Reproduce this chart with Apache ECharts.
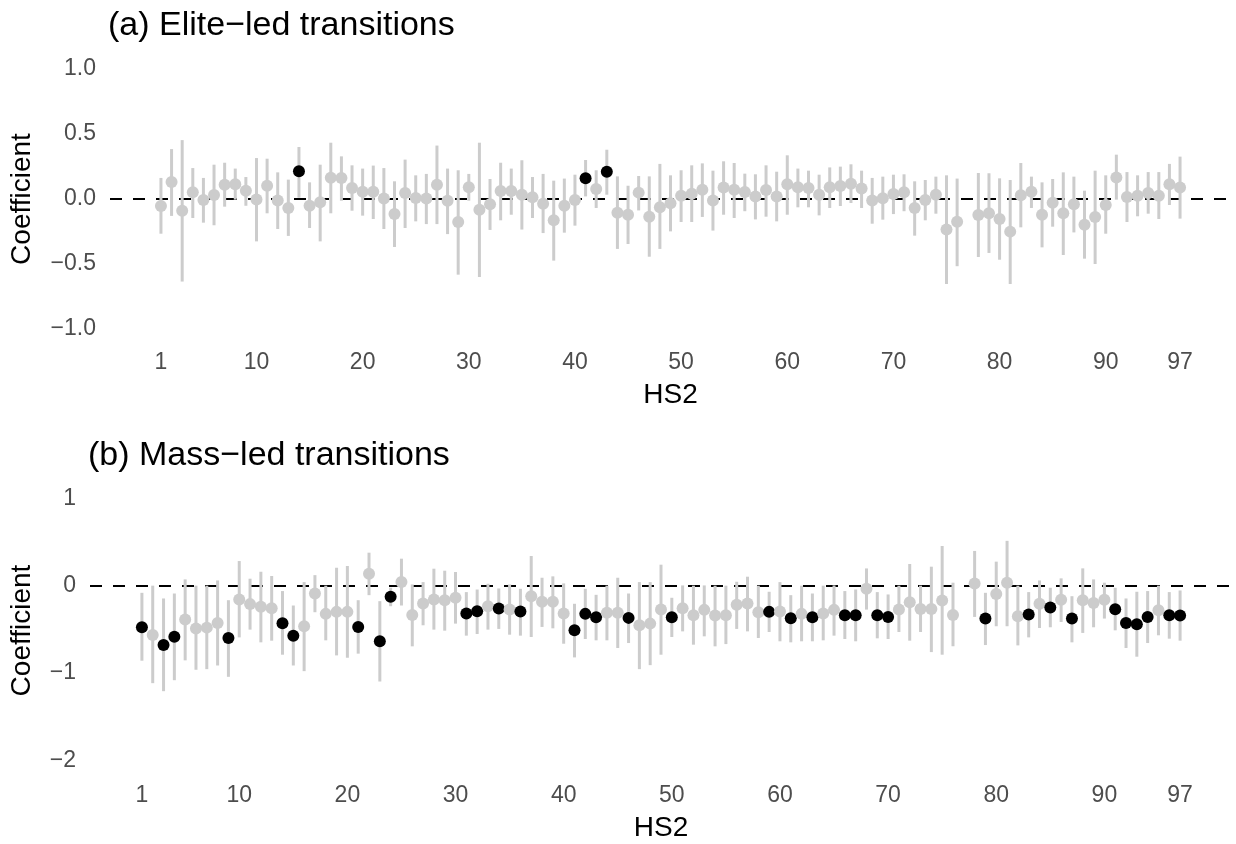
<!DOCTYPE html>
<html>
<head>
<meta charset="utf-8">
<title>HS2 coefficients</title>
<script src="https://cdn.jsdelivr.net/npm/echarts@6/dist/echarts.min.js"></script>
<style>
  body { margin: 0; background: #fff; }
  #chart { width: 1236px; height: 844px; }
</style>
</head>
<body>
<div id="chart"></div>
<script>
// HS2 chapter codes (77 is not used)
const hs2Codes = [
  1, 2, 3, 4, 5, 6, 7, 8, 9, 10, 11, 12, 13, 14, 15, 16, 17, 18, 19, 20,
  21, 22, 23, 24, 25, 26, 27, 28, 29, 30, 31, 32, 33, 34, 35, 36, 37, 38, 39, 40,
  41, 42, 43, 44, 45, 46, 47, 48, 49, 50, 51, 52, 53, 54, 55, 56, 57, 58, 59, 60,
  61, 62, 63, 64, 65, 66, 67, 68, 69, 70, 71, 72, 73, 74, 75, 76,
  78, 79, 80, 81, 82, 83, 84, 85, 86, 87, 88, 89, 90, 91, 92, 93, 94, 95, 96, 97
]
const xTicks = [1, 10, 20, 30, 40, 50, 60, 70, 80, 90, 97]
const yTicksElite = [-1, -0.5, 0, 0.5, 1]
const yTicksMass = [-2, -1, 0, 1]

// (a) Elite-led transitions
const eliteCoef = [
  -0.054, 0.130, -0.090, 0.052, -0.008, 0.031, 0.110, 0.113, 0.064, -0.003,
  0.102, -0.011, -0.069, 0.213, -0.052, -0.025, 0.164, 0.162, 0.085, 0.056,
  0.056, 0.003, -0.116, 0.046, 0.008, 0.003, 0.110, -0.013, -0.177, 0.090,
  -0.082, -0.041, 0.061, 0.061, 0.033, 0.013, -0.036, -0.164, -0.052, -0.008,
  0.159, 0.077, 0.210, -0.105, -0.121, 0.049, -0.136, -0.064, -0.033, 0.025,
  0.041, 0.072, -0.011, 0.088, 0.072, 0.054, 0.020, 0.069, 0.020, 0.113,
  0.090, 0.085, 0.033, 0.090, 0.100, 0.118, 0.080, -0.011, 0.005, 0.039,
  0.052, -0.069, -0.008, 0.033, -0.235, -0.175,
  -0.123, -0.110, -0.154, -0.251, 0.028, 0.056, -0.121, -0.028, -0.110, -0.041,
  -0.198, -0.138, -0.046, 0.166, 0.016, 0.025, 0.046, 0.025, 0.113, 0.088
]
const eliteLow = [
  -0.267, -0.130, -0.635, -0.146, -0.182, -0.202, -0.059, -0.005, -0.052, -0.326,
  -0.110, -0.231, -0.284, 0.010, -0.223, -0.326, -0.110, -0.013, -0.090, -0.128,
  -0.154, -0.231, -0.369, -0.223, -0.172, -0.193, -0.193, -0.270, -0.582, -0.013,
  -0.600, -0.238, -0.164, -0.121, -0.235, -0.146, -0.262, -0.474, -0.259, -0.205,
  0.020, -0.069, 0.033, -0.384, -0.346, -0.088, -0.444, -0.384, -0.249, -0.177,
  -0.177, -0.138, -0.243, -0.121, -0.146, -0.094, -0.157, -0.136, -0.172, -0.121,
  -0.064, -0.064, -0.126, -0.069, -0.054, -0.031, -0.069, -0.190, -0.159, -0.116,
  -0.094, -0.282, -0.164, -0.113, -0.654, -0.517,
  -0.446, -0.415, -0.467, -0.654, -0.218, -0.069, -0.372, -0.213, -0.431, -0.257,
  -0.459, -0.500, -0.267, -0.005, -0.177, -0.133, -0.113, -0.154, -0.046, -0.151
]
const eliteHigh = [
  0.162, 0.384, 0.453, 0.238, 0.162, 0.264, 0.279, 0.234, 0.169, 0.315,
  0.310, 0.205, 0.149, 0.400, 0.128, 0.264, 0.433, 0.328, 0.259, 0.234,
  0.257, 0.238, 0.136, 0.303, 0.182, 0.193, 0.411, 0.234, 0.221, 0.193,
  0.433, 0.154, 0.279, 0.234, 0.298, 0.169, 0.193, 0.141, 0.157, 0.187,
  0.300, 0.221, 0.379, 0.174, 0.102, 0.177, 0.174, 0.270, 0.182, 0.221,
  0.259, 0.274, 0.218, 0.290, 0.277, 0.195, 0.190, 0.259, 0.210, 0.336,
  0.234, 0.218, 0.187, 0.243, 0.249, 0.267, 0.218, 0.162, 0.172, 0.187,
  0.190, 0.136, 0.146, 0.172, 0.182, 0.157,
  0.200, 0.198, 0.159, 0.146, 0.277, 0.172, 0.128, 0.154, 0.205, 0.172,
  0.064, 0.218, 0.182, 0.341, 0.207, 0.182, 0.207, 0.207, 0.270, 0.326
]

// (b) Mass-led transitions
const massCoef = [
  -0.473, -0.561, -0.677, -0.581, -0.384, -0.488, -0.477, -0.423, -0.596, -0.154,
  -0.207, -0.238, -0.254, -0.427, -0.569, -0.461, -0.085, -0.319, -0.296, -0.296,
  -0.469, 0.142, -0.634, -0.123, 0.046, -0.331, -0.200, -0.154, -0.162, -0.134,
  -0.315, -0.288, -0.231, -0.258, -0.270, -0.292, -0.116, -0.181, -0.181, -0.315,
  -0.508, -0.319, -0.358, -0.307, -0.307, -0.365, -0.450, -0.431, -0.270, -0.358,
  -0.254, -0.335, -0.273, -0.339, -0.335, -0.215, -0.200, -0.300, -0.296, -0.292,
  -0.369, -0.319, -0.358, -0.315, -0.273, -0.335, -0.335, -0.031, -0.335, -0.354,
  -0.270, -0.185, -0.262, -0.262, -0.165, -0.333,
  0.031, -0.373, -0.092, 0.039, -0.346, -0.327, -0.203, -0.246, -0.158, -0.373,
  -0.162, -0.193, -0.158, -0.266, -0.423, -0.439, -0.354, -0.277, -0.335, -0.339
]
const massLow = [
  -0.857, -1.115, -1.207, -1.081, -0.853, -0.961, -0.954, -0.912, -1.042, -0.589,
  -0.500, -0.646, -0.627, -0.788, -0.912, -0.977, -0.300, -0.623, -0.796, -0.823,
  -0.776, -0.104, -1.096, -0.231, -0.223, -0.692, -0.450, -0.500, -0.512, -0.431,
  -0.569, -0.550, -0.500, -0.492, -0.558, -0.569, -0.585, -0.469, -0.485, -0.662,
  -0.819, -0.608, -0.623, -0.623, -0.711, -0.654, -0.954, -0.908, -0.788, -0.585,
  -0.520, -0.673, -0.577, -0.692, -0.666, -0.492, -0.520, -0.596, -0.527, -0.634,
  -0.646, -0.634, -0.634, -0.623, -0.569, -0.608, -0.634, -0.270, -0.600, -0.608,
  -0.527, -0.627, -0.527, -0.758, -0.788, -0.691,
  -0.354, -0.677, -0.461, -0.461, -0.681, -0.589, -0.481, -0.473, -0.412, -0.646,
  -0.538, -0.473, -0.373, -0.508, -0.711, -0.811, -0.654, -0.565, -0.604, -0.627
]
const massHigh = [
  -0.077, 0.005, -0.142, -0.085, 0.077, 0.005, 0.005, 0.065, -0.162, 0.288,
  0.085, 0.165, 0.116, -0.057, -0.223, 0.046, 0.126, 0.005, 0.211, 0.231,
  -0.162, 0.384, -0.173, -0.019, 0.315, 0.019, 0.046, 0.200, 0.177, 0.162,
  -0.069, -0.039, 0.027, -0.027, 0.019, -0.031, 0.346, 0.096, 0.112, 0.031,
  -0.203, -0.031, -0.100, 0.005, 0.096, -0.085, 0.046, 0.046, 0.246, -0.134,
  0.008, 0.005, 0.008, 0.005, 0.005, 0.050, 0.108, 0.005, -0.065, 0.046,
  -0.104, 0.005, -0.085, 0.005, 0.008, -0.057, -0.039, 0.203, -0.069, -0.096,
  0.005, 0.254, 0.005, 0.223, 0.461, 0.039,
  0.404, -0.077, 0.281, 0.520, 0.005, -0.069, 0.065, -0.019, 0.089, -0.116,
  0.204, 0.077, 0.039, -0.019, -0.142, -0.065, -0.057, 0.005, -0.069, -0.050
]

const FONT = '"Liberation Sans", Arial, Helvetica, sans-serif'
const GREY = '#CCCCCC'
const minus = (s) => String(s).replace('-', '\u2212')

const chart = echarts.init(document.getElementById('chart'), null, { renderer: 'canvas' })

// whisker: vertical segment from low to high
const renderWhisker = (params, api) => {
  const p1 = api.coord([api.value(0), api.value(1)])
  const p2 = api.coord([api.value(0), api.value(2)])
  return {
    type: 'line',
    shape: { x1: p1[0], y1: p1[1], x2: p2[0], y2: p2[1] },
    style: { stroke: GREY, lineWidth: 3 }
  }
}

// build the series for one panel
const panelSeries = (idx, coef, low, high) => {
  const whiskers = hs2Codes.map((c, i) => [c, low[i], high[i]])
  const points = hs2Codes.map((c, i) => {
    const sig = low[i] > 0 || high[i] < 0
    return { value: [c, coef[i]], itemStyle: { color: sig ? '#000000' : GREY, opacity: 1 } }
  })
  return [
    {
      type: 'custom',
      xAxisIndex: idx,
      yAxisIndex: idx,
      z: 2,
      silent: true,
      renderItem: renderWhisker,
      data: whiskers,
      markLine: {
        z: 1,
        silent: true,
        symbol: 'none',
        label: { show: false },
        lineStyle: { color: '#000', width: 2, type: [12, 11], opacity: 1 },
        data: [{ yAxis: 0 }]
      }
    },
    {
      type: 'scatter',
      xAxisIndex: idx,
      yAxisIndex: idx,
      z: 3,
      silent: true,
      symbolSize: 12,
      itemStyle: { opacity: 1 },
      data: points
    }
  ]
}

const xAxisBase = (idx) => ({
  type: 'value',
  gridIndex: idx,
  min: -3.8,
  max: 101.8,
  name: 'HS2',
  nameLocation: 'middle',
  nameGap: 39,
  nameTextStyle: { fontSize: 28, color: '#000', fontFamily: FONT },
  axisLine: { show: false },
  axisTick: { show: false },
  splitLine: { show: false },
  axisLabel: {
    customValues: xTicks,
    margin: 9,
    fontSize: 23,
    color: '#4D4D4D',
    fontFamily: FONT
  }
})

const yAxisBase = (idx, min, max, ticks, fmt, gap) => ({
  type: 'value',
  gridIndex: idx,
  min: min,
  max: max,
  name: 'Coefficient',
  nameLocation: 'middle',
  nameGap: gap,
  nameTextStyle: { fontSize: 28, color: '#000', fontFamily: FONT },
  axisLine: { show: false },
  axisTick: { show: false },
  splitLine: { show: false },
  axisLabel: {
    customValues: ticks,
    margin: 14,
    fontSize: 23,
    color: '#4D4D4D',
    fontFamily: FONT,
    formatter: fmt
  }
})

const titleStyle = { fontSize: 34, fontWeight: 'normal', color: '#000', fontFamily: FONT }

const option = {
  backgroundColor: '#fff',
  animation: false,
  title: [
    { text: '(a) Elite\u2212led transitions', left: 108, top: 9, padding: 0, textStyle: titleStyle },
    { text: '(b) Mass\u2212led transitions', left: 88, top: 439, padding: 0, textStyle: titleStyle }
  ],
  grid: [
    { left: 109, top: 56, width: 1122, height: 286 },
    { left: 89, top: 486, width: 1143, height: 289 }
  ],
  xAxis: [xAxisBase(0), xAxisBase(1)],
  yAxis: [
    yAxisBase(0, -1.1, 1.1, yTicksElite, (v) => minus(v.toFixed(1)), 74),
    yAxisBase(1, -2.17, 1.15, yTicksMass, (v) => minus(v.toFixed(0)), 54)
  ],
  series: [
    ...panelSeries(0, eliteCoef, eliteLow, eliteHigh),
    ...panelSeries(1, massCoef, massLow, massHigh)
  ]
}

chart.setOption(option)
</script>
</body>
</html>
